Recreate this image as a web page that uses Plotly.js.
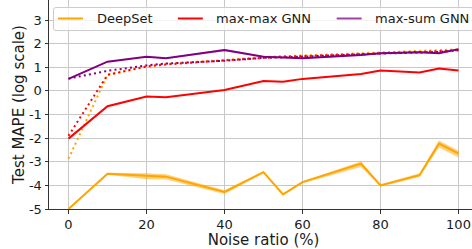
<!DOCTYPE html>
<html><head><meta charset="utf-8">
<script src="https://cdn.plot.ly/plotly-3.0.1.min.js"></script>
<style>html,body{margin:0;padding:0;overflow:hidden;background:#fff}#c{width:480px;height:249px}</style>
</head><body><div id="c"></div>
<script>
// ---- data ----
const noise = [0, 10, 20, 25, 40, 50, 55, 60, 75, 80, 90, 95, 100];
const seriesNames = ['DeepSet', 'max-max GNN', 'max-sum GNN'];
const deepsetSolid = [-5.0, -3.51, -3.59, -3.63, -4.28, -3.44, -4.38, -3.86, -3.08, -4.0, -3.57, -2.23, -2.65];
const deepsetLow   = [-5.0, -3.55, -3.74, -3.75, -4.36, -3.49, -4.42, -3.91, -3.22, -4.05, -3.65, -2.40, -2.82];
const deepsetHigh  = [-5.0, -3.47, -3.49, -3.53, -4.21, -3.39, -4.34, -3.82, -2.99, -3.95, -3.49, -2.10, -2.53];
const maxmaxSolid  = [-2.02, -0.65, -0.24, -0.27, 0.04, 0.42, 0.39, 0.51, 0.72, 0.86, 0.78, 0.95, 0.86];
const maxsumSolid  = [0.51, 1.24, 1.45, 1.38, 1.73, 1.45, 1.42, 1.38, 1.52, 1.60, 1.64, 1.60, 1.77];
const maxsumLow    = [0.49, 1.22, 1.43, 1.36, 1.67, 1.43, 1.40, 1.36, 1.50, 1.58, 1.62, 1.56, 1.75];
const maxsumHigh   = [0.53, 1.26, 1.47, 1.40, 1.78, 1.47, 1.44, 1.40, 1.54, 1.62, 1.66, 1.63, 1.79];
const deepsetDotted = [-2.87, 0.68, 1.05, 1.15, 1.31, 1.44, 1.47, 1.50, 1.58, 1.63, 1.68, 1.71, 1.76];
const maxmaxDotted  = [-1.90, 0.68, 1.03, 1.12, 1.29, 1.41, 1.45, 1.47, 1.55, 1.60, 1.65, 1.68, 1.73];
const maxsumDotted  = [0.52, 0.85, 1.08, 1.16, 1.28, 1.40, 1.42, 1.46, 1.55, 1.58, 1.63, 1.65, 1.72];
const xTickVals = [0, 20, 40, 60, 80, 100];
const xTickText = ['0', '20', '40', '60', '80', '100'];
const yTickVals = [-5, -4, -3, -2, -1, 0, 1, 2, 3];
const yTickText = ['-5', '-4', '-3', '-2', '-1', '0', '1', '2', '3'];

// ---- style ----
const ORANGE = '#FFA500', RED = '#FF0000', PURPLE = '#800080';
const FONT = 'DejaVu Sans';
const DOT = '2px,3.2px';
const W = 480, H = 249, ML = 49, MR = 1.5, MT = 0, MB = 40;
const PW = W - ML - MR, PH = H - MT - MB;
const px = p => (p - ML) / PW;
const py = p => (MT + PH - p) / PH;

function band(x, lo, hi, color) {
  return {x: x.concat(x.slice().reverse()), y: hi.concat(lo.slice().reverse()),
    type: 'scatter', mode: 'lines', fill: 'toself', fillcolor: color,
    line: {width: 0}, hoverinfo: 'skip', showlegend: false};
}
function line(x, y, color, dash, w) {
  return {x: x, y: y, type: 'scatter', mode: 'lines',
    line: {color: color, width: w || 2, dash: dash || 'solid'}, showlegend: false};
}

const traces = [
  band(noise, maxsumLow, maxsumHigh, 'rgba(128,0,128,0.3)'),
  band(noise, deepsetLow, deepsetHigh, 'rgba(255,165,0,0.5)'),
  line(noise, deepsetDotted, ORANGE, DOT),
  line(noise, maxmaxDotted, RED, DOT),
  line(noise, maxsumDotted, PURPLE, DOT),
  line(noise, maxmaxSolid, RED),
  line(noise, maxsumSolid, PURPLE),
  line(noise, deepsetSolid, ORANGE),
];

// manual legend (matplotlib style)
const legColors = [ORANGE, RED, 'rgba(128,0,128,0.75)'];
const legLineX = [58, 178, 337];
const legTextX = [95, 214, 373];
const legY = 18.5;
const shapes = [];
const annotations = [];
(function () {
  const x0 = 53.5, x1 = 474, y0 = 7.5, y1 = 30.5, r = 2.5;
  const X = p => px(p), Y = p => py(p);
  const path = `M ${X(x0 + r)},${Y(y0)} L ${X(x1 - r)},${Y(y0)} Q ${X(x1)},${Y(y0)} ${X(x1)},${Y(y0 + r)} ` +
    `L ${X(x1)},${Y(y1 - r)} Q ${X(x1)},${Y(y1)} ${X(x1 - r)},${Y(y1)} L ${X(x0 + r)},${Y(y1)} ` +
    `Q ${X(x0)},${Y(y1)} ${X(x0)},${Y(y1 - r)} L ${X(x0)},${Y(y0 + r)} Q ${X(x0)},${Y(y0)} ${X(x0 + r)},${Y(y0)} Z`;
  shapes.push({type: 'path', xref: 'paper', yref: 'paper', path: path,
    fillcolor: 'rgba(255,255,255,0.8)', line: {color: '#cccccc', width: 1}, layer: 'above'});
})();
seriesNames.forEach((name, i) => {
  shapes.push({type: 'line', xref: 'paper', yref: 'paper', layer: 'above',
    x0: px(legLineX[i]), x1: px(legLineX[i] + 25), y0: py(legY), y1: py(legY),
    line: {color: legColors[i], width: 2}});
  annotations.push({xref: 'paper', yref: 'paper', x: px(legTextX[i]), y: py(legY),
    xanchor: 'left', yanchor: 'middle', showarrow: false, text: name,
    font: {family: FONT, size: 13, color: '#1a1a1a'}});
});

const layout = {
  width: W, height: H,
  margin: {l: ML, r: MR, t: MT, b: MB, pad: 0},
  paper_bgcolor: '#fff', plot_bgcolor: '#fff',
  font: {family: FONT, size: 13, color: '#1a1a1a'},
  showlegend: false,
  xaxis: {range: [-5, 105], tickvals: xTickVals, ticktext: xTickText,
    showgrid: true, gridcolor: '#c8c8c8', gridwidth: 1, zeroline: false,
    showline: true, linecolor: '#333', linewidth: 1, mirror: true,
    ticks: 'outside', ticklen: 3.5, tickcolor: '#333', tickfont: {size: 13},
    title: {text: 'Noise ratio (%)', font: {size: 15}, standoff: 1}},
  yaxis: {range: [-5, 3.85], tickvals: yTickVals, ticktext: yTickText,
    showgrid: true, gridcolor: '#c8c8c8', gridwidth: 1, zeroline: false,
    showline: true, linecolor: '#333', linewidth: 1, mirror: true,
    ticks: 'outside', ticklen: 3.5, tickcolor: '#333', tickfont: {size: 13},
    title: {text: 'Test MAPE (log scale)', font: {size: 15}, standoff: 0}},
  shapes: shapes,
  annotations: annotations
};
Plotly.newPlot('c', traces, layout, {staticPlot: true, displayModeBar: false});
</script>
</body></html>
